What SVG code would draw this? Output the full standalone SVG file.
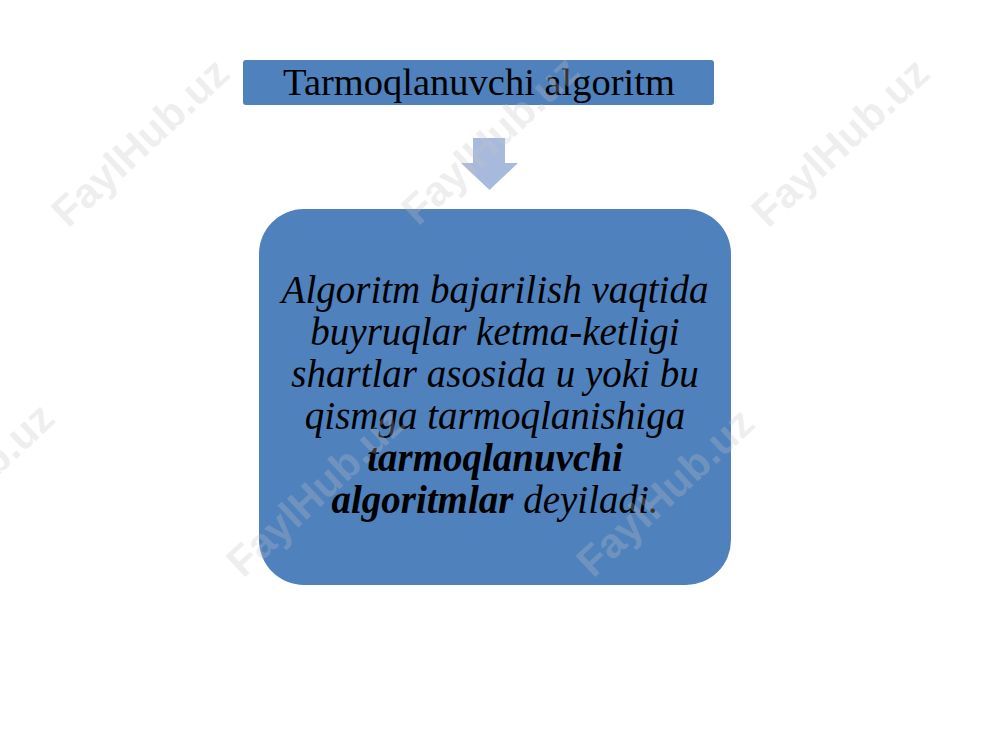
<svg xmlns="http://www.w3.org/2000/svg" width="1000" height="750" viewBox="0 0 1000 750">
<style>
.box{fill:#4F81BD;}
.t{font-family:"Liberation Serif","Times New Roman",serif;fill:#000;text-anchor:middle;}
.it{font-style:italic;font-size:39px;}
.wm{font-family:"Liberation Sans",Arial,sans-serif;font-weight:bold;font-size:42px;fill:#c4c4c4;fill-opacity:0.28;text-anchor:middle;dominant-baseline:central;}
</style>
<rect width="1000" height="750" fill="#fff"/>
<g id="title">
<rect class="box" x="243" y="60" width="471" height="45" rx="3"/>
<text class="t" x="479" y="95" font-size="38.5">Tarmoqlanuvchi algoritm</text>
</g>
<g id="connectors">
<polygon points="473,138 505,138 505,163 518,163 489.5,190 461,163 473,163" fill="#A7B9DD"/>
</g>
<g id="definition">
<rect class="box" x="259" y="209" width="472" height="376" rx="45"/>
<text class="t it" x="495" y="303">Algoritm bajarilish vaqtida</text>
<text class="t it" x="495" y="345">buyruqlar ketma-ketligi</text>
<text class="t it" x="495" y="387">shartlar asosida u yoki bu</text>
<text class="t it" x="495" y="429">qismga tarmoqlanishiga</text>
<text class="t it" x="495" y="471" font-weight="bold">tarmoqlanuvchi</text>
<text class="t it" x="495" y="513"><tspan font-weight="bold">algoritmlar</tspan> deyiladi.</text>
</g>
<g id="watermarks">
<text class="wm" transform="translate(140,142) rotate(-43)">FaylHub.uz</text>
<text class="wm" transform="translate(490,140) rotate(-43)">FaylHub.uz</text>
<text class="wm" transform="translate(840,142) rotate(-43)">FaylHub.uz</text>
<text class="wm" transform="translate(-35,487) rotate(-43)">FaylHub.uz</text>
<text class="wm" transform="translate(315,492) rotate(-43)">FaylHub.uz</text>
<text class="wm" transform="translate(665,492) rotate(-43)">FaylHub.uz</text>
</g>
</svg>
